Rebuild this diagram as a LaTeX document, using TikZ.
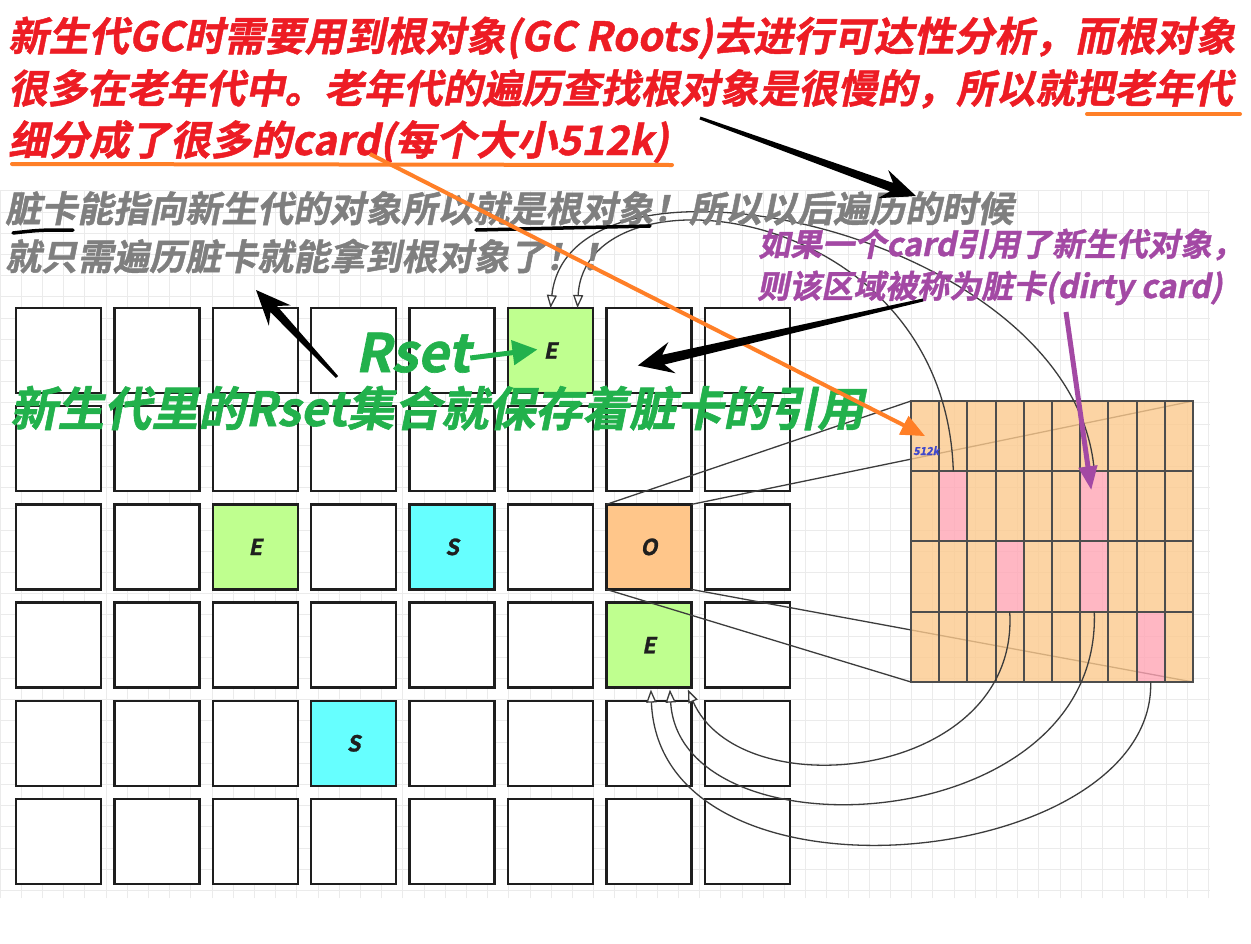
\documentclass[tikz,border=0pt]{standalone}
\usepackage{fontspec}
\usetikzlibrary{arrows.meta,calc}
\newfontfamily\cjk{Noto Sans CJK SC}[UprightFont={* Bold},FakeSlant=0.2,FakeBold=1.2]
\definecolor{tred}{HTML}{ED1C24}
\definecolor{tgray}{HTML}{7F7F7F}
\definecolor{tgreen}{HTML}{22B14C}
\definecolor{tpurple}{HTML}{A349A4}
\definecolor{torange}{HTML}{FF7F27}
\definecolor{tblue}{HTML}{3F48CC}
\definecolor{egreen}{HTML}{BFFF8F}
\definecolor{scyan}{HTML}{66FFFF}
\definecolor{oorange}{HTML}{FFC68A}
\definecolor{cardfill}{HTML}{FCCA8E}
\definecolor{cardpink}{HTML}{FFA5B4}
\definecolor{cardedge}{HTML}{4D4D4D}
\definecolor{gridc}{HTML}{EBEBEB}
\definecolor{boxedge}{HTML}{1E1E1E}
\definecolor{curvec}{HTML}{3C3C3C}
\definecolor{objtext}{HTML}{1F1F1F}
\newcommand\taperarrow[5]{%
  \coordinate (tpN) at ($(#2)!26pt!(#1)$);
  \coordinate (tpW) at ($(#2)!35pt!(#1)$);
  \fill[black] ($(#1)!#3!90:(#2)$) -- ($(tpN)!#4!90:(#2)$) -- ($(tpW)!#5!90:(#2)$) -- (#2)
    -- ($(tpW)!#5!-90:(#2)$) -- ($(tpN)!#4!-90:(#2)$) -- ($(#1)!#3!-90:(#2)$) -- cycle;}
\begin{document}
\begin{tikzpicture}[x=1pt,y=-1pt,
  cell/.style={draw=boxedge, line width=2.5pt, fill=white, minimum width=85pt, minimum height=85pt, inner sep=0pt, outer sep=0pt},
  card/.style={draw=cardedge, line width=2pt, fill opacity=0.8, minimum width=28.2pt, minimum height=70.25pt, inner sep=0pt, outer sep=0pt},
  objlabel/.style={font=\cjk\fontsize{22}{22}\selectfont, text=objtext},
  zoomline/.style={draw=curvec, line width=1.3pt},
  refcurve/.style={draw=curvec, line width=1.3pt, -{Triangle[fill=white, length=13pt, width=10pt]}},
  ttl/.style={anchor=base west, inner sep=0pt, text=tred, font=\cjk\fontsize{39.5}{39.5}\selectfont},
  grtxt/.style={anchor=base west, inner sep=0pt, text=tgray, font=\cjk\fontsize{36}{36}\selectfont},
  putxt/.style={anchor=base west, inner sep=0pt, text=tpurple, font=\cjk\fontsize{32}{32}\selectfont},
  grntxt/.style={anchor=base west, inner sep=0pt, text=tgreen, font=\cjk\fontsize{47}{47}\selectfont}
]
\useasboundingbox (0,0) rectangle (1251,943);
\fill[white] (0,0) rectangle (1251,943);
\draw[gridc, line width=0.9pt, step=21.2pt] (0,898) grid (1210,190);

% heap regions
\foreach \r in {1,...,6}{\foreach \c in {1,...,8}{
  \node[cell] (b-\r-\c) at ({58.5+(\c-1)*98.4},{350.5+(\r-1)*98.2}) {};}}
\node[cell, fill=egreen, objlabel] (e1) at (b-1-6.center) {E};
\node[cell, fill=egreen, objlabel] (e2) at (b-3-3.center) {E};
\node[cell, fill=scyan, objlabel] (s1) at (b-3-5.center) {S};
\node[cell, fill=oorange, objlabel] (o1) at (b-3-7.center) {O};
\node[cell, fill=egreen, objlabel] (e3) at (b-4-7.center) {E};
\node[cell, fill=scyan, objlabel] (s2) at (b-5-4.center) {S};

% card table (magnified old region)
\path node[minimum width=282pt, minimum height=281pt, inner sep=0pt, outer sep=0pt] (table) at (1052,541.5) {};
\draw[zoomline] (o1.north west) -- (table.north west);
\draw[zoomline] (o1.north east) -- (table.north east);
\draw[zoomline] (o1.south west) -- (table.south west);
\draw[zoomline] (o1.south east) -- (table.south east);
\foreach \r in {1,...,4}{\foreach \c in {1,...,10}{
  \pgfmathtruncatemacro\k{\r*100+\c}
  \def\cf{cardfill}
  \ifnum\k=202 \def\cf{cardpink}\fi
  \ifnum\k=207 \def\cf{cardpink}\fi
  \ifnum\k=304 \def\cf{cardpink}\fi
  \ifnum\k=307 \def\cf{cardpink}\fi
  \ifnum\k=409 \def\cf{cardpink}\fi
  \node[card, fill=\cf] (c-\r-\c) at ({925.1+(\c-1)*28.2},{436.1+(\r-1)*70.25}) {};}}
\draw[cardedge, line width=2pt] (table.north west) rectangle (table.south east);
\node[anchor=base west, inner sep=0pt, text=tblue, font=\cjk\fontsize{11}{11}\selectfont] (k512) at (913,455) {512k};

% references from dirty cards
\draw[refcurve] (c-2-7.north) .. controls (1075,230) and (570,125) .. (b-1-6.north);
\draw[refcurve] (c-2-2.north) .. controls (945,200) and (585,160) .. ($(b-1-6.north)+(27,0)$);
\draw[refcurve] (c-3-4.south) .. controls (1020,780) and (740,810) .. ($(b-4-7.south)+(39,2)$);
\draw[refcurve] (c-3-7.south) .. controls (1102,840) and (680,860) .. ($(b-4-7.south)+(21,2)$);
\draw[refcurve] (c-4-9.south) .. controls (1155,870) and (660,920) .. ($(b-4-7.south)+(2,2)$);

% texts
\node[ttl, font=\cjk\fontsize{40.2}{40.2}\selectfont] (t1) at (8,51) {新生代GC时需要用到根对象(GC Roots)去进行可达性分析，而根对象};
\node[ttl] (t2) at (8,103) {很多在老年代中。老年代的遍历查找根对象是很慢的，所以就把老年代};
\node[ttl, font=\cjk\fontsize{40.5}{40.5}\selectfont] (t3) at (8,155) {细分成了很多的card(每个大小512k)};
\draw[torange, line width=4pt, line cap=round] (1087,114) -- (1240,114);
\draw[torange, line width=4pt, line cap=round] (12,164) -- (672,165);

\node[grtxt] (g1) at (5,222) {脏卡能指向新生代的对象所以就是根对象！所以以后遍历的时候};
\node[grtxt] (g2) at (5,270) {就只需遍历脏卡就能拿到根对象了！！};
\draw[black, line width=3.5pt, line cap=round] (13,233) .. controls (40,230) .. (73,230);
\draw[black, line width=3.5pt, line cap=round] (476,230) -- (650,226);

\node[putxt] (p1) at (758,256) {如果一个card引用了新生代对象，};
\node[putxt] (p2) at (757,298) {则该区域被称为脏卡(dirty card)};

\node[anchor=base west, inner sep=0pt, text=tgreen, font=\cjk\fontsize{53}{53}\selectfont] (rset) at (355,372) {Rset};
\draw[tgreen, line width=5pt, -{Triangle[length=25pt, width=24pt]}] ($(rset.base east)+(0,-14)$) -- ($(e1.center)+(-13,-1)$);
\node[grntxt] (cap) at (10,426) {新生代里的Rset集合就保存着脏卡的引用};

% arrows
\coordinate (os) at (370,154);
\draw[torange, line width=4pt, -{Triangle[length=24pt, width=20pt]}] (os) -- (c-1-1.center);
\coordinate (ps) at (1066,312);
\draw[tpurple, line width=5pt, -{Triangle[length=24pt, width=18pt]}] (ps) -- ($(c-2-7.north)+(-3,19)$);
\coordinate (a1s) at (700,118);
\coordinate (a1e) at (916,196);
\taperarrow{a1s}{a1e}{1.5pt}{4.5pt}{15pt}
\coordinate (a2s) at (337,377);
\coordinate (a2e) at (256,290);
\taperarrow{a2s}{a2e}{1.5pt}{4.5pt}{15pt}
\coordinate (a3s) at (923,300);
\coordinate (a3e) at ($(b-1-7.center)+(-11,15)$);
\taperarrow{a3s}{a3e}{1.5pt}{5pt}{16pt}
\end{tikzpicture}
\end{document}
